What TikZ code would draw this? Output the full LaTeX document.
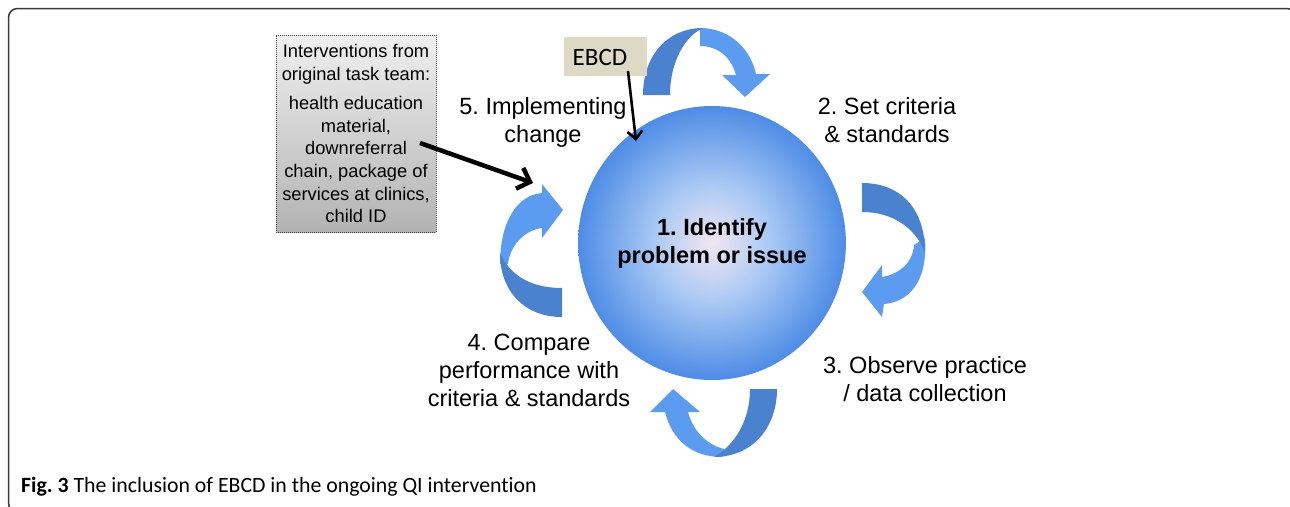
\documentclass[tikz,border=0pt]{standalone}
\usepackage{fontspec}
\setmainfont{Liberation Sans}
\newfontfamily\capfont[Ligatures=NoCommon]{Carlito}
\frenchspacing
\usetikzlibrary{arrows.meta,shapes.geometric}
\definecolor{arrdark}{HTML}{4A82D0}
\definecolor{arrlight}{HTML}{5C9CF0}
\definecolor{ballc}{HTML}{F2E6F2}
\definecolor{ballm}{HTML}{A8C8F4}
\definecolor{ballo}{HTML}{4E8CE6}
\definecolor{ebcdfill}{HTML}{DDD9C4}
\definecolor{framec}{HTML}{3A3A3A}
\pgfdeclareradialshading{ballshade}{\pgfpoint{0bp}{0bp}}{color(0bp)=(ballc); color(11bp)=(ballm); color(25bp)=(ballo); color(50bp)=(ballo)}
\tikzset{
  lbl/.style={align=center, inner sep=0pt, font=\fontsize{23.5}{28}\selectfont},
  ballnode/.style={ellipse, inner sep=0pt, shade, shading=ballshade, minimum width=260, minimum height=274, align=center, font=\fontsize{23.5}{28}\selectfont\bfseries},
  graybox/.style={rectangle, draw=black!75, densely dotted, line width=1pt, top color=black!6, bottom color=black!30, minimum width=160, minimum height=197, align=center, inner sep=0pt, font=\fontsize{18.3}{22.6}\selectfont},
  ebcdbox/.style={rectangle, fill=ebcdfill, minimum width=83, minimum height=39, inner sep=0pt},
  ebcdtext/.style={inner sep=0pt, font=\capfont\fontsize{25}{30}\selectfont},
  bigarrow/.style={line width=4.5pt, -{Straight Barb[length=11pt,width=22pt]}},
  thinarrow/.style={line width=2.6pt, -{Straight Barb[length=8pt,width=15pt]}},
  darkpart/.style={fill=arrdark, draw=none},
  lightpart/.style={fill=arrlight, draw=none},
}
\begin{document}
\begin{tikzpicture}[x=1pt,y=-1pt]
\useasboundingbox (0,0) rectangle (1290,506);
\begin{scope}
\clip (0,0) rectangle (1290,506);
\draw[framec, line width=1.5pt, rounded corners=9pt] (8.5,8.5) rectangle (1296,512);
\end{scope}

% central ball
\node[ballnode] (circ) at (712,243) {1. Identify\\problem or issue};

% top arrow (5 -> 2)
\fill[lightpart] (700,28) .. controls (728,28) and (750,47) .. (756,74) -- (770,74) -- (745,97) -- (722,75) -- (736,75) .. controls (731,57) and (718,46) .. (700,46) -- cycle;
\fill[darkpart] (643,95) .. controls (643,55) and (668,28) .. (703,28) .. controls (685,36) and (670,62) .. (670,95) -- cycle;

% right arrow (2 -> 3)
\fill[lightpart] (925,238) .. controls (928,283) and (908,302) .. (884,304) -- (882,317) -- (862,292) -- (882,265) -- (882,277) .. controls (900,274) and (913,262) .. (914,245) -- cycle;
\fill[darkpart] (862,183) .. controls (900,183) and (925,208) .. (925,252) .. controls (915,228) and (893,212) .. (862,212) -- cycle;

% bottom arrow (3 -> 4)
\fill[lightpart] (722,457) .. controls (692,457) and (672,440) .. (665,412) -- (650,412) -- (673,389) -- (700,412) -- (688,412) .. controls (693,430) and (705,444) .. (724,449) -- cycle;
\fill[darkpart] (777,389) .. controls (777,428) and (752,457) .. (714,457) .. controls (735,445) and (750,420) .. (750,389) -- cycle;

% left arrow (4 -> 5)
\fill[lightpart] (500,264) .. controls (500,222) and (517,195) .. (542,193) -- (542,184) -- (563,210) -- (542,238) -- (542,228) .. controls (525,230) and (510,245) .. (508,264) -- cycle;
\fill[darkpart] (562,317) .. controls (525,317) and (500,292) .. (500,253) .. controls (510,275) and (530,288) .. (562,288) -- cycle;

% labels
\node[lbl] (l5) at (543,122) {5. Implementing\\change};
\node[lbl] (l2) at (887,120) {2. Set criteria\\\& standards};
\node[lbl] (l3) at (925,379) {3. Observe practice\\/ data collection};
\node[lbl] (l4) at (529,370) {4. Compare\\performance with\\criteria \& standards};

% interventions box
\node[graybox] (box) at (356,133.5) {Interventions from\\original task team:\\[7pt]health education\\material,\\downreferral\\chain, package of\\services at clinics,\\child ID};

% EBCD box
\node[ebcdbox] (ebcd) at (605.5,56.5) {};
\node[ebcdtext] (ebcdt) at (600,57) {EBCD};

% connectors
\coordinate (bstart) at (420,143);
\coordinate (bend) at (533,183);
\draw[bigarrow] (bstart) -- (bend);
\coordinate (estart) at (628,71);
\coordinate (eend) at (636,141);
\draw[thinarrow] (estart) -- (eend);

% caption
\node[anchor=west, inner sep=0pt, font=\capfont\fontsize{21.8}{26}\selectfont] (cap) at (21,487) {\textbf{Fig. 3} The inclusion of EBCD in the ongoing QI intervention};
\end{tikzpicture}
\end{document}
